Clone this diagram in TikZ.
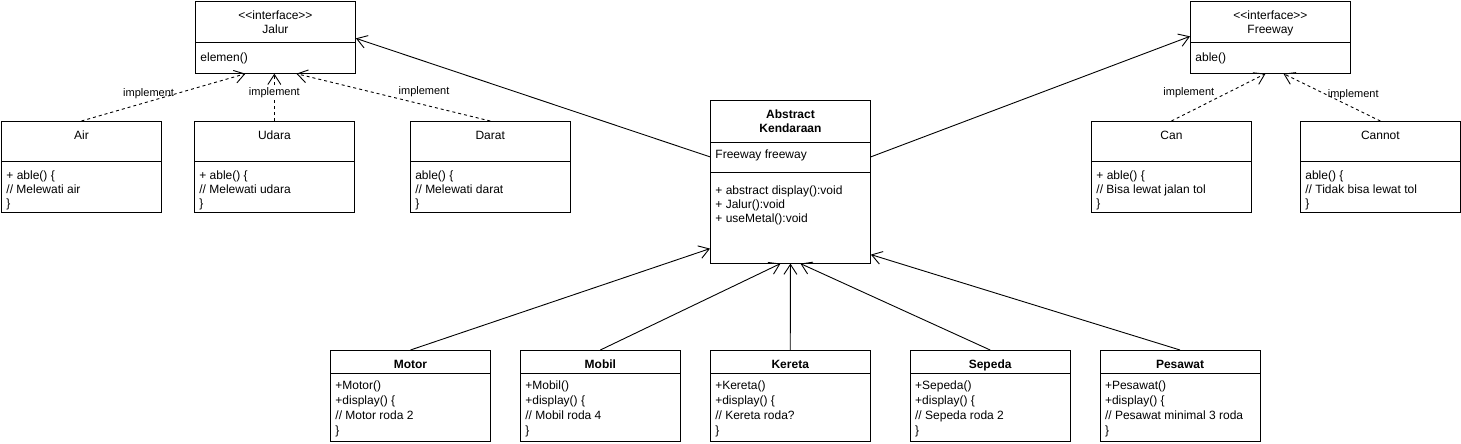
\documentclass[tikz,border=0pt]{standalone}
\usepackage{fontspec}
\setmainfont{Liberation Sans}
\usetikzlibrary{positioning,shapes.multipart,arrows.meta}

\newcommand{\clshead}[2]{\parbox[c][#1][t]{150pt}{\centering\vspace*{7.5pt}\strut #2}}
\newcommand{\clsbody}[4][14pt]{\parbox[c][#2][t]{150pt}{\raggedright\setlength{\baselineskip}{#1}\vspace*{#3}\strut #4}}

\begin{document}
\begin{tikzpicture}[x=1pt, y=-1pt, line width=0.9pt,
  font=\fontsize{12}{14}\selectfont,
  cls/.style={draw, rectangle split, rectangle split parts=2, inner xsep=5pt, inner ysep=0pt},
  arr/.style={-{Straight Barb[length=10pt,width=13pt]}},
  impl/.style={arr, dash pattern=on 3pt off 3pt},
  lbl/.style={font=\fontsize{11}{13}\selectfont, inner sep=1pt}]
\useasboundingbox[fill=white] (0,0) rectangle (1461,444);

% interfaces
\node [cls, anchor=north west] (jalur) at (195,1) {\clshead{40pt}{<{}<interface>{}>\\Jalur}\nodepart{two}\clsbody{30pt}{8.5pt}{elemen()}};
\node [cls, anchor=north west] (freeway) at (1190,1) {\clshead{40pt}{<{}<interface>{}>\\Freeway}\nodepart{two}\clsbody{30pt}{8.5pt}{able()}};

% implementations of Jalur
\node [cls, anchor=north west] (air) at (1,121) {\clshead{39pt}{Air}\nodepart{two}\clsbody{50pt}{8pt}{+ able() \{\\// Melewati air\\\}}};
\node [cls, right=32pt of air] (udara) {\clshead{39pt}{Udara}\nodepart{two}\clsbody{50pt}{8pt}{+ able() \{\\// Melewati udara\\\}}};
\node [cls, right=55pt of udara] (darat) {\clshead{39pt}{Darat}\nodepart{two}\clsbody{50pt}{8pt}{able() \{\\// Melewati darat\\\}}};

% implementations of Freeway
\node [cls, anchor=north west] (can) at (1091,121) {\clshead{39pt}{Can}\nodepart{two}\clsbody{50pt}{8pt}{+ able() \{\\// Bisa lewat jalan tol\\\}}};
\node [cls, right=48pt of can] (cannot) {\clshead{39pt}{Cannot}\nodepart{two}\clsbody{50pt}{8pt}{able() \{\\// Tidak bisa lewat tol\\\}}};

% abstract class
\node [cls, rectangle split parts=3, anchor=north west] (kend) at (710,100) {\clshead{41pt}{\bfseries Abstract\\Kendaraan}\nodepart{two}\clsbody{29pt}{6.2pt}{Freeway freeway}\nodepart{three}\clsbody{90pt}{12pt}{+ abstract display():void\\+ Jalur():void\\+ useMetal():void}};

% subclasses
\node [cls, anchor=north west] (motor) at (330,350) {\clshead{22pt}{\bfseries Motor}\nodepart{two}\clsbody[15pt]{67pt}{5.8pt}{+Motor()\\+display() \{\\// Motor roda 2\\\}}};
\node [cls, right=29pt of motor] (mobil) {\clshead{22pt}{\bfseries Mobil}\nodepart{two}\clsbody[15pt]{67pt}{5.8pt}{+Mobil()\\+display() \{\\// Mobil roda 4\\\}}};
\node [cls, right=29pt of mobil] (kereta) {\clshead{22pt}{\bfseries Kereta}\nodepart{two}\clsbody[15pt]{67pt}{5.8pt}{+Kereta()\\+display() \{\\// Kereta roda?\\\}}};
\node [cls, right=39pt of kereta] (sepeda) {\clshead{22pt}{\bfseries Sepeda}\nodepart{two}\clsbody[15pt]{67pt}{5.8pt}{+Sepeda()\\+display() \{\\// Sepeda roda 2\\\}}};
\node [cls, right=29pt of sepeda] (pesawat) {\clshead{22pt}{\bfseries Pesawat}\nodepart{two}\clsbody[15pt]{67pt}{5.8pt}{+Pesawat()\\+display() \{\\// Pesawat minimal 3 roda\\\}}};

% Kendaraan uses the interfaces
\draw[arr] ([yshift=-14.5pt]kend.text split west) -- ([yshift=4pt]jalur.text split east);
\draw[arr] ([yshift=-14.5pt]kend.text split east) -- ([yshift=6pt]freeway.text split west);
% implement
\draw[impl] (air.north) -- node[lbl, pos=0.573, anchor=east]{implement} ([xshift=-30pt]jalur.south);
\draw[impl] (udara.north) -- node[lbl, pos=0.6, fill=white]{implement} (udara.north |- jalur.south);
\draw[impl] (darat.north) -- node[lbl, pos=0.48, anchor=south west]{implement} ([xshift=21pt]jalur.south);
\draw[impl] (can.north) -- node[lbl, pos=0.47, anchor=south east]{implement} ([xshift=-5pt]freeway.south);
\draw[impl] (cannot.north) -- node[lbl, pos=0.557, anchor=west]{implement} ([xshift=13pt]freeway.south);
% from subclasses to Kendaraan
\draw[arr] (motor.north) -- ([yshift=15pt]kend.south west);
\draw[arr] (mobil.north) -- ([xshift=-10pt]kend.south);
\draw[arr] (kereta.north) -- (kend.south);
\draw[arr] (sepeda.north) -- ([xshift=10pt]kend.south);
\draw[arr] (pesawat.north) -- ([yshift=9pt]kend.south east);
\end{tikzpicture}
\end{document}
